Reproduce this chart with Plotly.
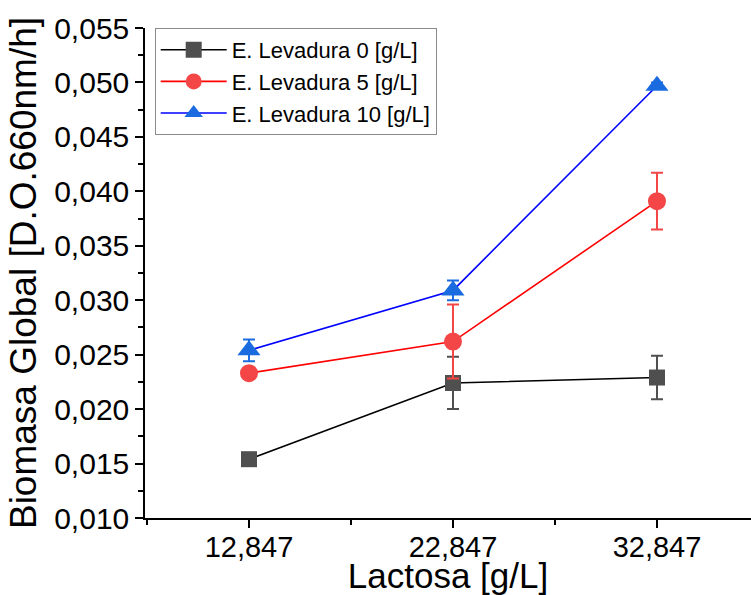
import plotly.graph_objects as go

lactosa = [12.847, 22.847, 32.847]
x_ticklabels = ["12,847", "22,847", "32,847"]

lev0 = [0.0154, 0.0224, 0.0229]
lev0_err = [0.0003, 0.0024, 0.0020]
lev5 = [0.0233, 0.0262, 0.0391]
lev5_err = [0.0003, 0.0034, 0.0026]
lev10 = [0.0254, 0.0309, 0.0497]
lev10_err = [0.0010, 0.0009, 0.0003]

series_names = ["E. Levadura 0 [g/L]", "E. Levadura 5 [g/L]", "E. Levadura 10 [g/L]"]

font_family = "Arial, Liberation Sans, sans-serif"

fig = go.Figure()

specs = [
    (lev0, lev0_err, series_names[0], "#000000", "#4f4f4f", "square", 16),
    (lev5, lev5_err, series_names[1], "#ff0000", "#f44646", "circle", 18),
    (lev10, lev10_err, series_names[2], "#0000ff", "#1a6be0", "triangle-up", 20),
]
for ys, es, name, lc, mc, sym, sz in specs:
    fig.add_trace(go.Scatter(
        x=lactosa, y=ys, name=name, mode="lines+markers",
        line=dict(color=lc, width=1.6),
        marker=dict(symbol=sym, size=sz, color=mc, line=dict(width=0)),
        error_y=dict(type="data", array=es, visible=True, color=mc, thickness=2, width=6),
    ))

fig.update_layout(
    width=751, height=595,
    margin=dict(l=145, r=0, t=28, b=77),
    paper_bgcolor="white", plot_bgcolor="white",
    separators=",.",
    font=dict(family=font_family, color="black"),
    showlegend=True,
    legend=dict(
        x=0.016, y=1.0, xanchor="left", yanchor="top",
        bordercolor="#8a8a8a", borderwidth=1, bgcolor="white",
        font=dict(size=22, family=font_family),
        itemwidth=66,
    ),
)
fig.update_xaxes(
    range=[7.75, 37.455],
    tickvals=lactosa, ticktext=x_ticklabels,
    showgrid=False, zeroline=False,
    showline=True, linecolor="black", linewidth=1.5,
    ticks="outside", ticklen=8, tickwidth=1.5, tickcolor="black",
    minor=dict(ticks="outside", ticklen=5, tickwidth=1.5, tickcolor="black", dtick=5, tick0=7.847),
    tickfont=dict(size=29), ticklabelstandoff=-6,
    title=dict(text="Lactosa [g/L]", font=dict(size=35), standoff=0),
)
fig.update_yaxes(
    range=[0.010, 0.055],
    dtick=0.005, tick0=0.010, tickformat=".3f",
    showgrid=False, zeroline=False,
    showline=True, linecolor="black", linewidth=1.5,
    ticks="outside", ticklen=8, tickwidth=1.5, tickcolor="black",
    minor=dict(ticks="outside", ticklen=5, tickwidth=1.5, tickcolor="black", dtick=0.0025),
    tickfont=dict(size=30),
    title=dict(text="Biomasa Global [D.O.660nm/h]", font=dict(size=37), standoff=6),
)

fig.write_html(
    "out.html",
    config={"displayModeBar": False},
    post_script="document.body.style.margin='0';document.body.style.overflow='hidden';",
)
